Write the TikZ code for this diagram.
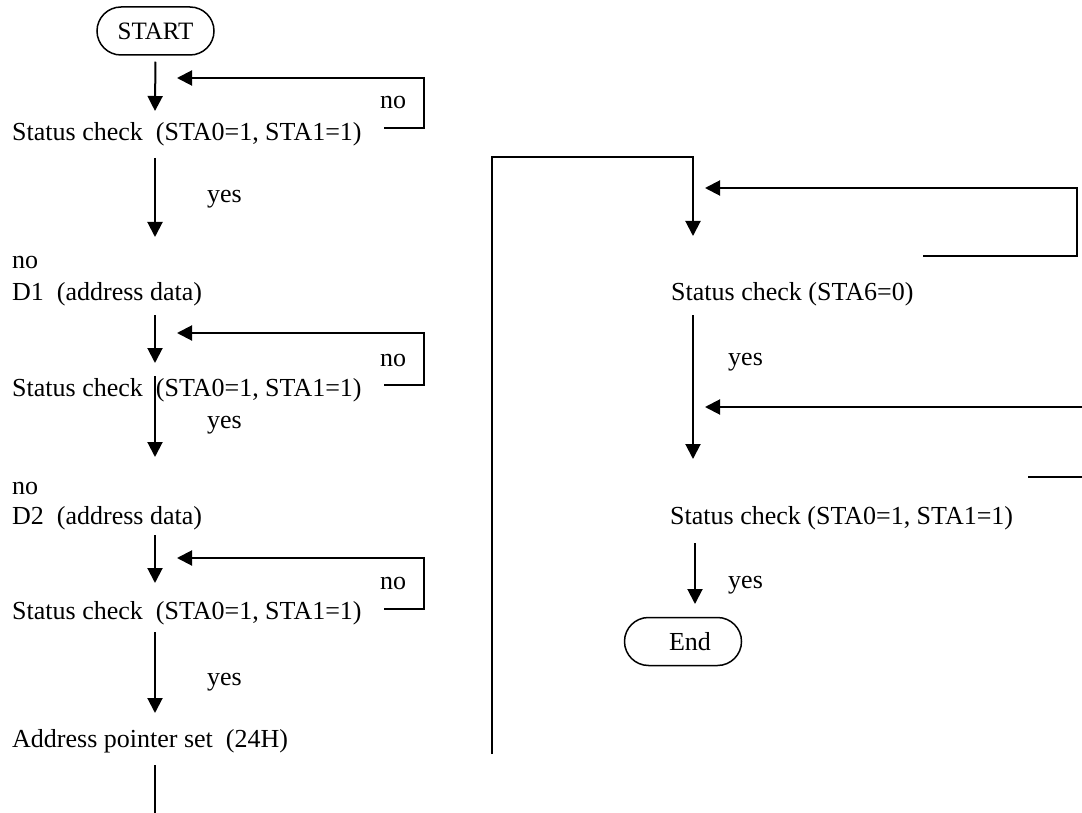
\documentclass[tikz,border=0pt]{standalone}
\usepackage{fontspec}
\setmainfont{Liberation Serif}
\usetikzlibrary{arrows.meta}
\begin{document}
\begin{tikzpicture}[x=1pt,y=-1pt,
  txt/.style={anchor=base west,inner sep=0pt,yshift=-3pt,font=\fontsize{26}{31}\selectfont},
  term/.style={draw,line width=1.5pt,rounded corners=24pt,minimum width=117pt,minimum height=48pt,inner sep=0pt},
  flow/.style={line width=2pt,-{Triangle[width=15pt,length=15pt]}},
  wire/.style={line width=2pt}]
\useasboundingbox (0,0) rectangle (1082,813);
% ---------- left column ----------
\node[term,font=\fontsize{25}{30}\selectfont] (start) at (155.5,31) {START};
\node[txt] (s1) at (12,138) {Status check\ \ (STA0=1, STA1=1)};
\node[txt] (no1) at (380,106) {no};
\node[txt] (yes1) at (207,200) {yes};
\node[txt] (noa) at (12,266) {no};
\node[txt] (d1) at (12,298) {D1\ \ (address data)};
\node[txt] (no2) at (380,363) {no};
\node[txt] (s2) at (12,393) {Status check\ \ (STA0=1, STA1=1)};
\node[txt] (yes2) at (207,425) {yes};
\node[txt] (nob) at (12,491) {no};
\node[txt] (d2) at (12,521) {D2\ \ (address data)};
\node[txt] (no3) at (380,586) {no};
\node[txt] (s3) at (12,616) {Status check\ \ (STA0=1, STA1=1)};
\node[txt] (yes3) at (207,682) {yes};
\node[txt] (ap) at (12,744) {Address pointer set\ \ (24H)};
% coordinates for free ends
\coordinate (a1e) at (155,111);
\coordinate (l1a) at (384,128); \coordinate (l1b) at (424,128);
\coordinate (l1c) at (424,78);  \coordinate (l1d) at (177,78);
\coordinate (a2s) at (155,158); \coordinate (a2e) at (155,237);
\coordinate (a3s) at (155,315); \coordinate (a3e) at (155,363);
\coordinate (l2a) at (384,385); \coordinate (l2b) at (424,385);
\coordinate (l2c) at (424,333); \coordinate (l2d) at (177,333);
\coordinate (a4s) at (155,376); \coordinate (a4e) at (155,457);
\coordinate (a5s) at (155,535); \coordinate (a5e) at (155,583);
\coordinate (l3a) at (384,609); \coordinate (l3b) at (424,609);
\coordinate (l3c) at (424,558); \coordinate (l3d) at (177,558);
\coordinate (a6s) at (155,632); \coordinate (a6e) at (155,713);
\coordinate (a7s) at (155,765); \coordinate (a7e) at (155,815);
\draw[flow,shorten <=6pt] (start.south) -- (a1e);
\draw[flow] (l1a) -- (l1b) -- (l1c) -- (l1d);
\draw[flow] (a2s) -- (a2e);
\draw[flow] (a3s) -- (a3e);
\draw[flow] (l2a) -- (l2b) -- (l2c) -- (l2d);
\draw[flow] (a4s) -- (a4e);
\draw[flow] (a5s) -- (a5e);
\draw[flow] (l3a) -- (l3b) -- (l3c) -- (l3d);
\draw[flow] (a6s) -- (a6e);
\draw[wire] (a7s) -- (a7e);
% ---------- right column ----------
\node[txt] (s6) at (671,297) {Status check (STA6=0)};
\node[txt] (yes4) at (728,362) {yes};
\node[txt] (s7) at (670,521) {Status check (STA0=1, STA1=1)};
\node[txt] (yes5) at (728,585) {yes};
\node[term,font=\fontsize{26}{31}\selectfont] (end) at (683,641.5) {\hspace*{14pt}End};
\coordinate (r0) at (492,754); \coordinate (r1) at (492,157);
\coordinate (r2) at (693,157); \coordinate (r3) at (693,236);
\coordinate (q1) at (923,256); \coordinate (q2) at (1077,256);
\coordinate (q3) at (1077,188); \coordinate (q4) at (705,188);
\coordinate (b1s) at (693,315); \coordinate (b1e) at (693,459);
\coordinate (q5) at (1084,407); \coordinate (q6) at (705,407);
\coordinate (q7) at (1028,477); \coordinate (q8) at (1084,477);
\coordinate (b2s) at (695,543); \coordinate (b2e) at (695,604);
\draw[flow] (r0) -- (r1) -- (r2) -- (r3);
\draw[flow] (q1) -- (q2) -- (q3) -- (q4);
\draw[flow] (b1s) -- (b1e);
\draw[flow] (q5) -- (q6);
\draw[wire] (q7) -- (q8);
\draw[flow] (b2s) -- (b2e);
\end{tikzpicture}
\end{document}
